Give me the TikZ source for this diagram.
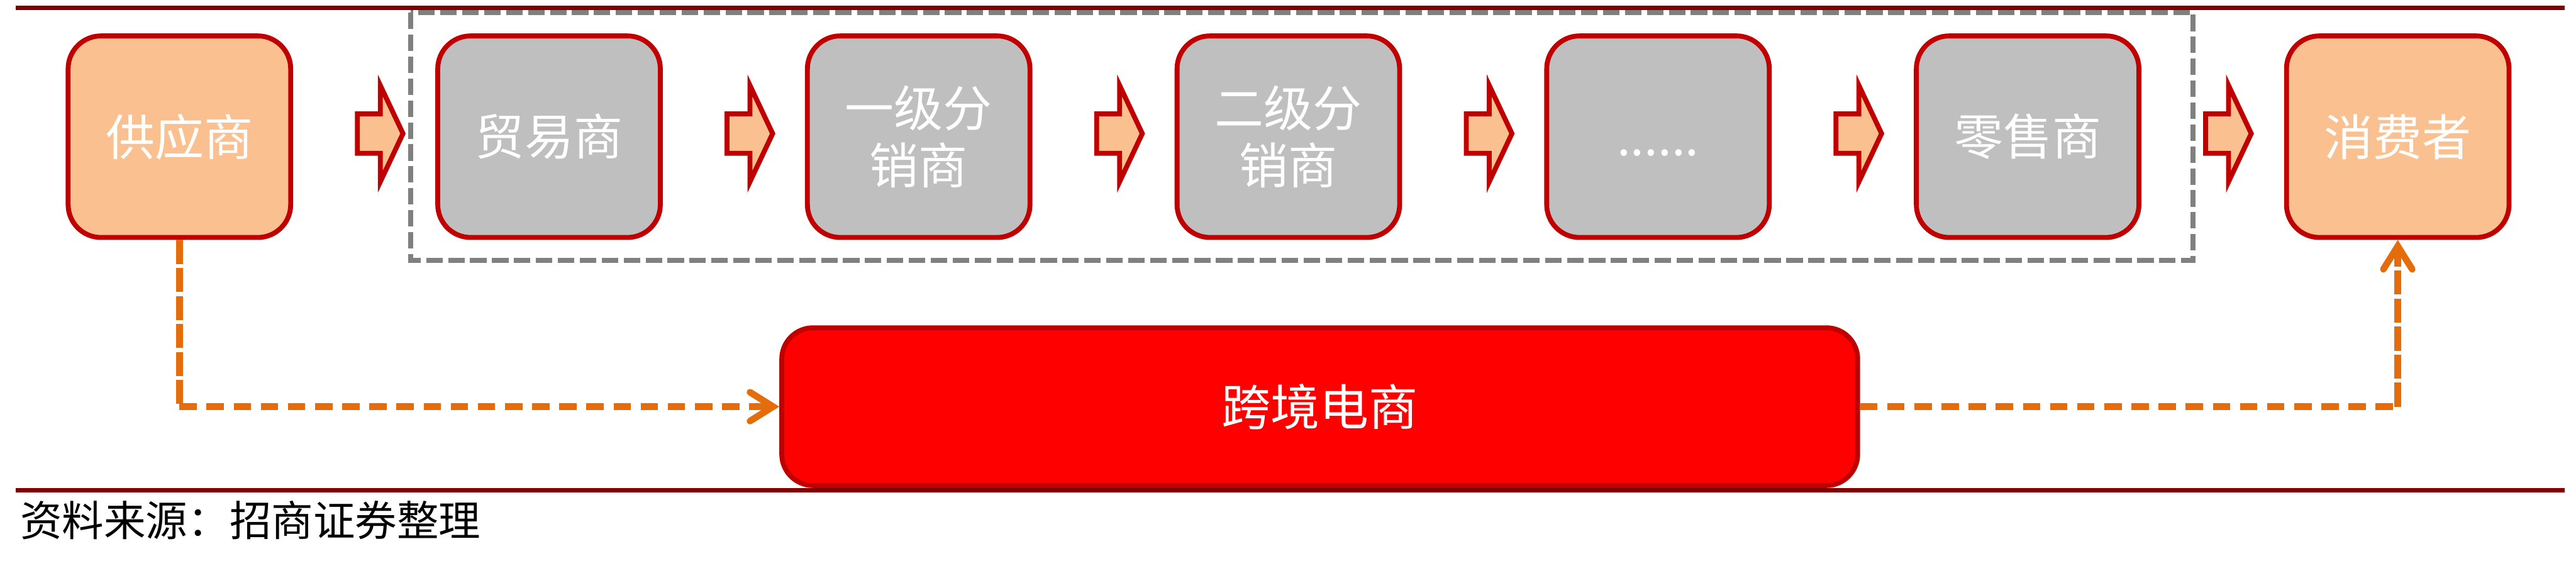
\documentclass[tikz,border=0pt]{standalone}
\usepackage{fontspec}
\newfontfamily\cjk{Noto Sans CJK SC}
\usetikzlibrary{arrows.meta}
\definecolor{peach}{HTML}{FAC090}
\definecolor{boxgray}{HTML}{BFBFBF}
\definecolor{bordred}{HTML}{C00000}
\definecolor{darkline}{HTML}{800000}
\definecolor{dashgray}{HTML}{808080}
\definecolor{orangeline}{HTML}{E46C0A}
\definecolor{brightred}{HTML}{FF0000}
\newcommand\blkarrow[1]{%
  \draw[blockarr] (#1,69.3) -- ({#1+14},69.3) -- ({#1+14},52) -- ({#1+27.8},81.3)
    -- ({#1+14},110.6) -- ({#1+14},93.3) -- (#1,93.3) -- cycle;}
\begin{document}
\begin{tikzpicture}[x=0.02cm,y=-0.02cm,
  stage/.style={draw=bordred, line width=1.7pt, rounded corners=0.4cm,
    minimum width=2.71cm, minimum height=2.454cm, inner sep=0pt,
    text=white, align=center, font=\cjk\fontsize{17pt}{20pt}\selectfont},
  peachbox/.style={stage, fill=peach},
  graybox/.style={stage, fill=boxgray},
  blockarr/.style={draw=bordred, fill=peach, line width=1.7pt, line join=miter},
  graydash/.style={draw=dashgray, line width=1.7pt, dash pattern=on 5.7pt off 1.9pt},
  orangeh/.style={draw=orangeline, line width=2.3pt, dash pattern=on 6pt off 3.4pt},
  orangev/.style={draw=orangeline, line width=2.3pt, dash pattern=on 8.3pt off 1.4pt},
  otip/.style={-{Straight Barb[length=8pt,width=10pt,line cap=round]}},
  rule/.style={draw=darkline, line width=1.6pt}
]
\useasboundingbox (0,0) rectangle (1568,351.7);
% rules
\draw[rule] (9.6,4.8) -- (1561,4.8);
\draw[rule] (9.6,298.3) -- (1561,298.3);
% dashed group frame
\draw[graydash] (250,7.7) rectangle (1335,158.5);
% stage boxes
\node[peachbox] (sup) at (109.2,83.2) {供应商};
\node[graybox]  (trd) at (334.2,83.2) {贸易商};
\node[graybox]  (d1)  at (559.2,83.2) {一级分\\销商};
\node[graybox]  (d2)  at (784.2,83.2) {二级分\\销商};
\node[graybox]  (etc) at (1009.2,83.2) {\vphantom{商}......};
\node[graybox]  (ret) at (1234.2,83.2) {零售商};
\node[peachbox] (con) at (1459.5,83.2) {消费者};
% block arrows
\blkarrow{217.5}
\blkarrow{442.5}
\blkarrow{667.5}
\blkarrow{892.5}
\blkarrow{1117.5}
\blkarrow{1342.5}
% cross-border e-commerce
\node[draw=bordred, fill=brightred, line width=1.7pt, rounded corners=0.38cm,
  minimum width=13.1cm, minimum height=1.92cm, inner sep=0pt, text=white,
  font=\cjk\fontsize{17pt}{20pt}\selectfont] (cbec) at (803.3,247.5) {跨境电商};
% orange dashed connectors
\coordinate (c1) at (sup.south |- cbec.west);
\coordinate (c2) at (con.south |- cbec.east);
\draw[orangev] (sup.south) -- (c1);
\draw[orangeh, otip] (c1) -- (cbec.west);
\draw[orangeh] (cbec.east) -- (c2);
\draw[orangev, otip] (c2) -- (con.south);
% source
\node[anchor=west, inner sep=0pt, font=\cjk\fontsize{14.5pt}{16pt}\selectfont] (src)
  at (12,316.5) {资料来源：招商证券整理};
\end{tikzpicture}
\end{document}
